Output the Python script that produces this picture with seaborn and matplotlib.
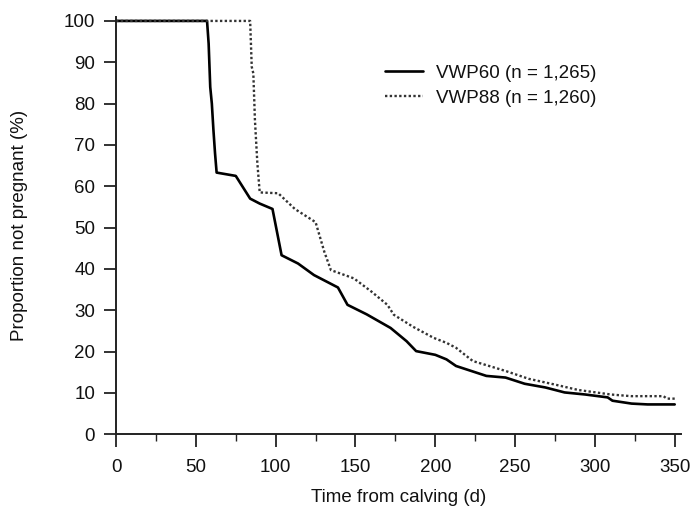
import matplotlib
matplotlib.use("Agg")
import matplotlib.pyplot as plt
import seaborn as sns
import pandas as pd
from matplotlib.ticker import MultipleLocator

# Data
vwp60_days = [0, 57, 58, 59, 60, 61, 62, 63, 75, 84, 90, 98, 103.7, 114, 124, 134, 139, 145,
              157, 172, 182, 188, 200, 207, 213, 232, 244, 256, 269, 281, 294, 308, 311, 323, 333, 350]
vwp60_vals = [100, 100, 94.5, 84, 80, 73.6, 68, 63.3, 62.5, 57, 55.8, 54.5, 43.3, 41.3, 38.5, 36.5, 35.5, 31.3,
              29, 25.7, 22.5, 20.1, 19.2, 18.1, 16.5, 14.1, 13.7, 12.2, 11.3, 10.1, 9.6, 8.9, 8.1, 7.4, 7.2, 7.2]

vwp88_days = [0, 84, 85, 86, 87, 88.5, 90, 101.6, 112, 125, 130.5, 134.6, 149, 160, 170, 174, 186, 199,
              207, 213, 223.5, 244, 258.5, 275, 289.5, 310, 322.6, 343, 345, 350]
vwp88_vals = [100, 100, 88.9, 87.3, 76, 65.7, 58.5, 58.3, 54.5, 51.3, 44.1, 39.7, 37.7, 34.5, 31.3, 28.9, 26, 23.3,
              22.1, 20.9, 17.7, 15.3, 13.4, 12, 10.7, 9.6, 9.2, 9.2, 8.6, 8.6]

labels = ["VWP60 (n = 1,265)", "VWP88 (n = 1,260)"]
x_ticks = [0, 50, 100, 150, 200, 250, 300, 350]
y_ticks = [0, 10, 20, 30, 40, 50, 60, 70, 80, 90, 100]

sns.set_style("ticks")
plt.rcParams['font.family'] = ['Liberation Sans', 'DejaVu Sans']
FS = 13.5

fig = plt.figure(figsize=(6.95, 5.09), dpi=100)
ax = fig.add_axes([0.167, 0.147, 0.813, 0.82])

df60 = pd.DataFrame({"day": vwp60_days, "val": vwp60_vals})
df88 = pd.DataFrame({"day": vwp88_days, "val": vwp88_vals})

sns.lineplot(data=df60, x="day", y="val", ax=ax, color="black", linewidth=1.9,
             label=labels[0], sort=False)
sns.lineplot(data=df88, x="day", y="val", ax=ax, color="#333333", linewidth=1.7,
             linestyle=(0, (1, 1)), label=labels[1], sort=False)

ax.set_xlim(0, 354)
ax.set_ylim(0, 101)
ax.set_xticks(x_ticks)
ax.set_yticks(y_ticks)
ax.xaxis.set_minor_locator(MultipleLocator(25))
ax.tick_params(axis="both", which="major", length=9, width=1.3, color="#222222",
               labelsize=FS, labelcolor="#111111", direction="out")
ax.tick_params(axis="x", which="minor", length=5, width=1.0, color="#222222", direction="out")
ax.tick_params(axis="x", pad=9)
ax.tick_params(axis="y", pad=6)
for s in ["top", "right"]:
    ax.spines[s].set_visible(False)
for s in ["left", "bottom"]:
    ax.spines[s].set_color("#222222")
    ax.spines[s].set_linewidth(1.4)

ax.set_xlabel("Time from calving (d)", fontsize=FS, labelpad=9, color="#111111")
ax.set_ylabel("Proportion not pregnant (%)", fontsize=FS, labelpad=26, color="#111111")

leg = ax.legend(loc="upper left", bbox_to_anchor=(0.476, 0.886), frameon=False,
                fontsize=FS, handlelength=2.0, handletextpad=0.7, labelspacing=0.42,
                borderpad=0, borderaxespad=0)
for t in leg.get_texts():
    t.set_color("#111111")

fig.savefig("out.png", dpi=100)
